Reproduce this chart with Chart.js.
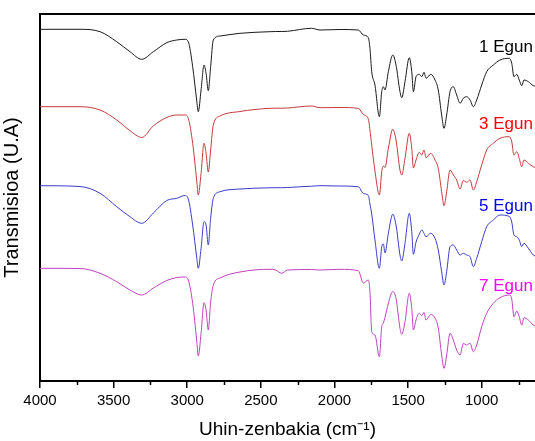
<!DOCTYPE html>
<html>
<head>
<meta charset="utf-8">
<script src="https://cdn.jsdelivr.net/npm/chart.js@4.4.1/dist/chart.umd.min.js"></script>
<style>
  html, body { margin: 0; padding: 0; background: #fff; }
</style>
</head>
<body>
<canvas id="ftirChart" width="535" height="441"></canvas>
<script>
// Uhin-zenbakiak (cm-1), ardatza alderantziz
const wavenumbers = [
    4000, 3728, 3592, 3479, 3389, 3309, 3230, 3139, 3071, 3015,
    2993, 2963, 2936, 2925, 2906, 2886, 2872, 2857, 2841, 2823,
    2777, 2642, 2438, 2400, 2358, 2320, 2155, 2098, 1962, 1838,
    1804, 1770, 1759, 1747, 1725, 1695, 1679, 1668, 1657, 1634,
    1604, 1582, 1555, 1543, 1521, 1492, 1475, 1464, 1446, 1424,
    1407, 1392, 1378, 1346, 1317, 1295, 1272, 1256, 1238, 1215,
    1193, 1170, 1147, 1125, 1102, 1079, 1057, 1034, 1000, 966,
    921, 876, 812, 796, 781, 762, 745, 728, 713, 683,
    650, 638
];

// Transmisioa (U.A), desplazatuta
const egun1 = [
    351.7, 351.7, 349.3, 339.3, 329.3, 321.7, 329.3, 338.3, 341, 341.7,
    339.3, 314.3, 281, 269.3, 291, 316, 307.7, 290.3, 314.3, 341,
    345, 347.7, 349.3, 349.5, 349.5, 349.7, 352.7, 351, 351.5, 351,
    346, 343.3, 332.7, 309.3, 296, 264.3, 289.3, 294.3, 291, 309.3,
    326, 316, 289.3, 283.3, 299.3, 323.3, 309.3, 289.3, 304.3, 306.7,
    304.3, 308.7, 302.7, 306.7, 301, 291, 266, 252.7, 266, 289.3,
    294.3, 286, 277.7, 282.7, 284.3, 281, 274.3, 281, 296, 309.3,
    316, 321, 322.7, 317.7, 304.3, 306.7, 301, 295.3, 301, 299.3,
    295.3, 295
];
const egun3 = [
    274.3, 274.3, 271, 261, 250.3, 243.5, 255.2, 263.5, 266, 266,
    262.7, 237.7, 201, 186, 207.7, 237.7, 227.7, 209, 231, 256,
    265, 269.5, 272.7, 272.8, 272.8, 273, 275, 273.3, 273.5, 272.7,
    266.5, 262, 251, 236, 210, 186, 209.3, 215, 213.5, 232.7,
    251.7, 241, 211, 206, 222.7, 247.7, 232.7, 213, 221, 228.7,
    226, 231, 223.3, 227.7, 221, 212.7, 189.3, 175.3, 189.3, 211,
    206, 201, 192, 200.5, 198.7, 201, 191, 199.3, 216, 231,
    237.7, 242.7, 244.3, 239.3, 226, 229.3, 222.7, 214.3, 221, 217.7,
    214.3, 213.5
];
const egun5 = [
    195.3, 194.5, 187.7, 174.3, 164.3, 157.7, 168, 180.5, 182.7, 185.5,
    182, 156, 124, 112.7, 132.7, 159.3, 156, 136, 162.7, 182.7,
    189.3, 192, 193.2, 193.3, 193.3, 193.5, 194.8, 195.3, 195, 194.3,
    187.5, 185.5, 177, 167, 141, 112.7, 134.3, 137, 128, 147.7,
    166.7, 156, 126, 120, 137.7, 167.7, 149.3, 126.7, 139, 146.7,
    151, 147.7, 144.3, 147.7, 142.7, 131, 109.3, 96, 109.3, 134.3,
    136, 131, 126, 127.7, 126, 124.3, 114.3, 122.7, 139.3, 154.3,
    161, 166, 164.5, 159, 146, 144.3, 141, 134.3, 137.7, 132.7,
    126, 125
];
const egun7 = [
    112.7, 112.5, 107.7, 99.3, 91, 86, 93, 100.5, 103.5, 104,
    101, 77.7, 41, 25, 47.7, 78.3, 71, 51, 79, 96,
    103, 109, 111.7, 111, 107.7, 111, 111.5, 111, 111.7, 110.3,
    98, 101, 89.3, 49.3, 46, 24.3, 54.3, 58, 63.5, 77.7,
    89.5, 82.7, 52.7, 46.7, 59.3, 87.7, 72.7, 51, 61, 67.7,
    65.3, 68.7, 61, 66.5, 63, 53, 26, 12.7, 26, 47.7,
    41, 31, 26, 37.5, 36, 37.7, 29.3, 36, 54.3, 67.7,
    77.7, 83.3, 86, 82, 64.3, 70, 64.3, 56, 63.3, 61,
    56, 55.5
];

const seriesNames = ['1 Egun', '3 Egun', '5 Egun', '7 Egun'];
const majorTicks = [4000, 3500, 3000, 2500, 2000, 1500, 1000];
const minorTicks = [3750, 3250, 2750, 2250, 1750, 1250, 750];

const lineColors = ['#1a1a1a', '#c43a3a', '#3c3cc4', '#c040c0'];
const textColors = ['#000000', '#ff0000', '#0000ff', '#ff00ff'];
const labelLevels = [334, 257, 175, 95];

const FONT = '"Liberation Sans", Arial, sans-serif';
Chart.defaults.font.family = FONT;
Chart.defaults.color = '#000';

const toPoints = arr => arr.map((v, i) => ({ x: wavenumbers[i], y: v }));

// goiko marra, tick txikiak eta serieen izenak
const framePlugin = {
    id: 'framePlugin',
    afterDraw(chart) {
        const { ctx, chartArea, scales: { x, y } } = chart;
        ctx.save();
        ctx.strokeStyle = '#000';
        ctx.lineWidth = 2;
        ctx.beginPath();
        ctx.moveTo(chartArea.left - 1, chartArea.top);
        ctx.lineTo(chartArea.right, chartArea.top);
        ctx.stroke();

        ctx.lineWidth = 1.5;
        minorTicks.forEach(v => {
            const px = Math.round(x.getPixelForValue(v)) + 0.5;
            ctx.beginPath();
            ctx.moveTo(px, chartArea.bottom);
            ctx.lineTo(px, chartArea.bottom + 4);
            ctx.stroke();
        });

        ctx.font = '17px ' + FONT;
        ctx.textBaseline = 'middle';
        ctx.textAlign = 'left';
        seriesNames.forEach((name, i) => {
            ctx.fillStyle = textColors[i];
            ctx.fillText(name, x.getPixelForValue(1018), y.getPixelForValue(labelLevels[i]));
        });
        ctx.restore();
    }
};

const ctx = document.getElementById('ftirChart').getContext('2d');
new Chart(ctx, {
    type: 'line',
    data: {
        datasets: [egun1, egun3, egun5, egun7].map((arr, i) => ({
            label: seriesNames[i],
            data: toPoints(arr),
            borderColor: lineColors[i],
            borderWidth: 1,
            pointRadius: 0,
            fill: false,
            cubicInterpolationMode: 'monotone'
        }))
    },
    options: {
        responsive: false,
        animation: false,
        devicePixelRatio: 1,
        layout: { padding: { top: 14, right: 0, left: 0, bottom: 0 } },
        plugins: { legend: { display: false }, tooltip: { enabled: false } },
        scales: {
            x: {
                type: 'linear',
                reverse: true,
                min: 638,
                max: 4000,
                afterBuildTicks: s => { s.ticks = majorTicks.map(v => ({ value: v })); },
                afterFit: s => { s.height = 60; },
                ticks: {
                    font: { size: 15 }, color: '#000', padding: 4, maxRotation: 0, autoSkip: false,
                    callback: v => String(v)
                },
                grid: { display: true, drawOnChartArea: false, tickLength: 7, color: '#000', lineWidth: 1.5 },
                border: { display: true, color: '#000', width: 2 },
                title: { display: true, text: 'Uhin-zenbakia (cm⁻¹)', font: { size: 19 }, color: '#000', padding: { top: 6, bottom: 0 } }
            },
            y: {
                min: 0,
                max: 367,
                afterFit: s => { s.width = 40; },
                ticks: { display: false },
                grid: { display: false },
                border: { display: true, color: '#000', width: 2 },
                title: { display: true, text: 'Transmisioa (U.A)', font: { size: 20 }, color: '#000', padding: { top: 0, bottom: 0 } }
            }
        }
    },
    plugins: [framePlugin]
});
</script>
</body>
</html>
